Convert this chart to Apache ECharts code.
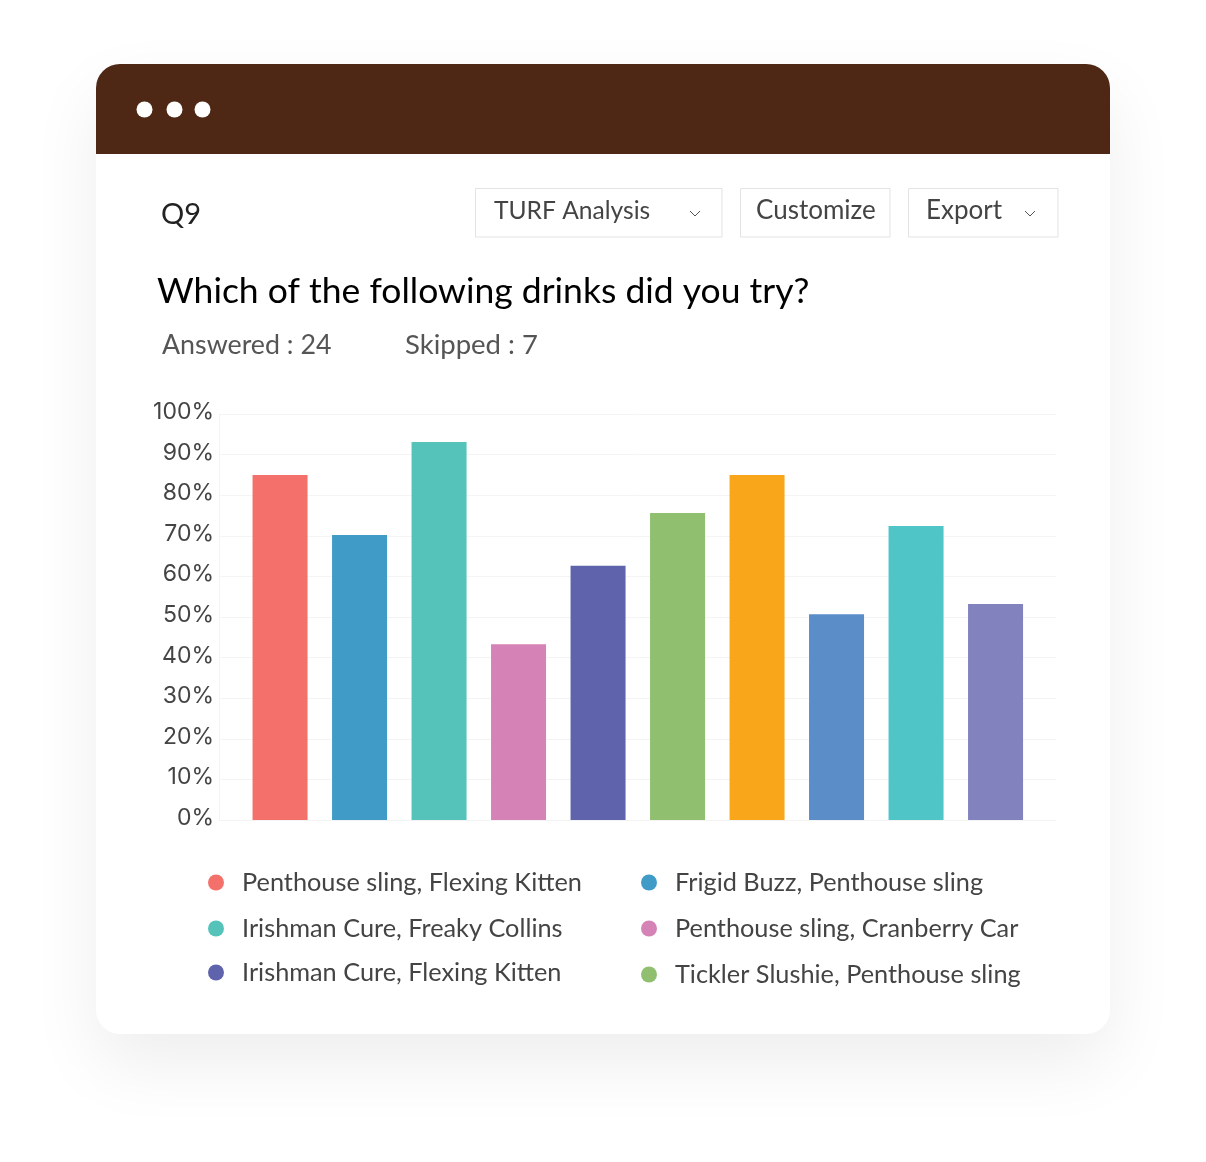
<!DOCTYPE html>
<html>
<head>
<meta charset="utf-8">
<title>Q9</title>
<script src="https://cdn.jsdelivr.net/npm/echarts@6/dist/echarts.min.js"></script>
<style>
html, body { margin: 0; padding: 0; background: #fff; }
#chart { width: 1206px; height: 1162px; }
</style>
</head>
<body>
<div id="chart"></div>
<script>
// bars, left to right (only the first six are named in the legend)
var barNames = ['Penthouse sling, Flexing Kitten', 'Frigid Buzz, Penthouse sling', 'Irishman Cure, Freaky Collins',
	'Penthouse sling, Cranberry Car', 'Irishman Cure, Flexing Kitten', 'Tickler Slushie, Penthouse sling',
	'Bar 7', 'Bar 8', 'Bar 9', 'Bar 10'];
var barValues = [85, 70.2, 93.1, 43.3, 62.6, 75.6, 85, 50.7, 72.4, 53.2];
var barColors = ['#f4706a', '#409cc6', '#55c3b9', '#d582b6', '#5f63ac', '#90bf70', '#faa61a', '#5b8dc9', '#50c5c8', '#8283be'];

var FONT = 'Lato';

function label(x, y, text, size, color, weight) {
	return {
		type: 'text',
		z: -1,
		style: {
			x: x,
			y: y,
			text: text,
			fontFamily: FONT,
			fontSize: size,
			fontWeight: weight || 'normal',
			fill: color,
			textVerticalAlign: 'middle'
		}
	};
}

function button(x, y, w, h) {
	return {
		type: 'rect',
		z: -1,
		shape: { x: x + 0.5, y: y + 0.5, width: w, height: h },
		style: { fill: '#fff', stroke: '#e3e3e3', lineWidth: 1 }
	};
}

function chevron(x, y) {
	return {
		type: 'polyline',
		z: -1,
		shape: { points: [[x, y], [x + 5, y + 5], [x + 10, y]] },
		style: { fill: null, stroke: '#555', lineWidth: 1 }
	};
}

function dot(x, y) {
	return { type: 'circle', z: -1, shape: { cx: x, cy: y, r: 8 }, style: { fill: '#fff' } };
}

var chrome = [
	{
		type: 'rect',
		z: -2,
		shape: { x: 96, y: 64, width: 1014, height: 970, r: 24 },
		style: { fill: '#fff', shadowBlur: 70, shadowOffsetY: 30, shadowColor: 'rgba(0,0,0,0.07)' }
	},
	{
		type: 'rect',
		z: -1,
		shape: { x: 96, y: 64, width: 1014, height: 90, r: [24, 24, 0, 0] },
		style: { fill: '#4e2815' }
	},
	dot(144.5, 109.5), dot(174.5, 109.5), dot(202.5, 109.5),
	button(475, 188, 246.5, 48.5), button(740, 188, 149.5, 48.5), button(908, 188, 149.5, 48.5),
	chevron(690, 211), chevron(1025, 211),
	label(161, 215, 'Q9', 29, '#222'),
	label(494, 211, 'TURF Analysis', 24.6, '#444'),
	label(756, 211, 'Customize', 26, '#444'),
	label(926, 211, 'Export', 26, '#444'),
	label(157, 292, 'Which of the following drinks did you try?', 35.5, '#000'),
	label(162, 345, 'Answered : 24', 26.8, '#555'),
	label(405, 345, 'Skipped : 7', 27.5, '#555')
];

// legend rows are not quite evenly spaced in the original
var legendPlaces = [[203, 882], [636, 882], [203, 928], [636, 928], [203, 972], [636, 974]];
var legends = legendPlaces.map(function(p, i) {
	return {
		show: true,
		left: p[0],
		top: p[1] - 17,
		itemWidth: 16,
		itemHeight: 16,
		icon: 'circle',
		selectedMode: false,
		data: [barNames[i]],
		textStyle: { fontFamily: FONT, fontSize: 25.3, color: '#444', padding: [0, 0, 0, 13] }
	};
});

var series = barNames.map(function(name, i) {
	return {
		name: name,
		type: 'bar',
		xAxisIndex: 1,
		yAxisIndex: 1,
		barWidth: 55,
		barGap: '-100%',
		itemStyle: { color: barColors[i] },
		data: barNames.map(function(n, j) {
			return j == i ? barValues[i] : null;
		})
	};
});

var ech = echarts.init(document.getElementById('chart'));
ech.setOption({
	animation: false,
	backgroundColor: '#fff',
	graphic: { elements: chrome },
	legend: legends,
	// grid 0 carries the scale and rules, grid 1 (narrower) the bars
	grid: [
		{ left: 219, top: 414, width: 837, height: 406 },
		{ left: 240.3, top: 414, width: 795, height: 406 }
	],
	xAxis: [
		{ type: 'value', gridIndex: 0, show: false, min: 0, max: 1 },
		{ type: 'category', gridIndex: 1, show: false, data: barNames }
	],
	yAxis: [{
		type: 'value',
		gridIndex: 0,
		min: 0,
		max: 100,
		interval: 10,
		axisLine: { show: true, lineStyle: { color: '#f4f4f4' } },
		axisTick: { show: false },
		splitLine: { lineStyle: { color: '#f4f4f4' } },
		axisLabel: {
			formatter: '{value}%',
			margin: 5,
			// labels sit a little above their rules in the original
			verticalAlign: 'bottom',
			lineHeight: 4,
			fontFamily: 'Inter',
			fontSize: 23,
			color: '#444'
		}
	}, {
		type: 'value',
		gridIndex: 1,
		show: false,
		min: 0,
		max: 100
	}],
	series: series
});
</script>
</body>
</html>
